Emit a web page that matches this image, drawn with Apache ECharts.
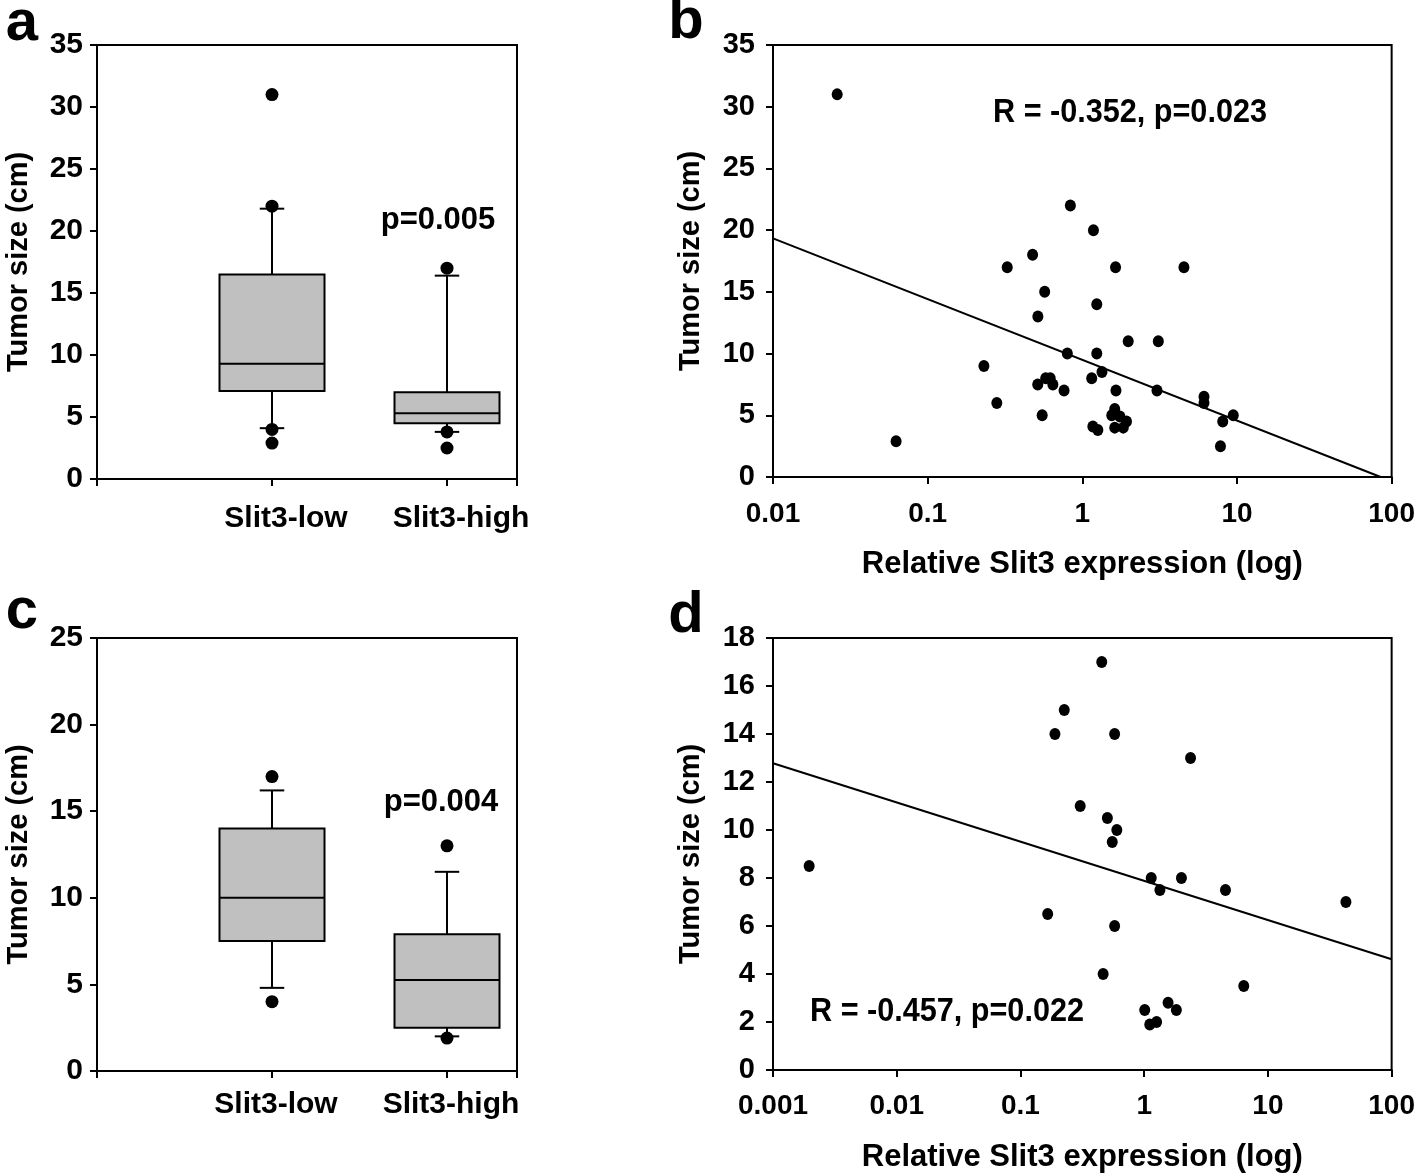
<!DOCTYPE html>
<html>
<head>
<meta charset="utf-8">
<script src="https://cdn.jsdelivr.net/npm/echarts@6/dist/echarts.min.js"></script>
<style>
  html, body { margin: 0; padding: 0; background: #fff; }
  #chart { width: 1418px; height: 1175px; }
</style>
</head>
<body>
<div id="chart"></div>
<script>
// groups of the box plots
const groups = ['Slit3-low', 'Slit3-high'];

// box plots: [x, lower whisker, Q1, median, Q3, upper whisker]
const boxA = [[1, 4.1, 7.1, 9.3, 16.5, 21.8], [2, 3.8, 4.5, 5.3, 7.0, 16.4]];
const dotsA = [[1, 31], [1, 22], [1, 4.0], [1, 2.9], [2, 17], [2, 3.8], [2, 2.5]];
const boxC = [[1, 4.8, 7.5, 10.0, 14.0, 16.2], [2, 2.0, 2.5, 5.25, 7.9, 11.5]];
const dotsC = [[1, 17], [1, 4.0], [2, 13], [2, 1.9]];

// scatter: [relative Slit3 expression, tumor size]
const pointsB = [
  [0.026, 31], [0.837, 22], [1.18, 20], [0.477, 18], [0.327, 17], [1.64, 17], [4.54, 17],
  [0.571, 15], [1.24, 14], [0.516, 13], [1.98, 11], [3.10, 11], [0.80, 10], [1.24, 10],
  [0.231, 9], [1.34, 8.5], [1.15, 8], [0.58, 8], [0.62, 8], [0.515, 7.5], [0.645, 7.5],
  [0.762, 7], [1.65, 7], [3.04, 7], [0.28, 6], [6.12, 6.5], [6.12, 6], [0.55, 5],
  [1.55, 5], [1.62, 5.5], [1.75, 4.9], [1.93, 4.5], [1.62, 4], [1.84, 4], [1.17, 4.1],
  [1.26, 3.8], [9.46, 5], [8.09, 4.5], [7.82, 2.5], [0.0625, 2.9]
];
const pointsD = [
  [0.454, 17], [0.226, 15], [0.19, 14], [0.577, 14], [2.37, 13], [0.304, 11], [0.504, 10.5],
  [0.601, 10], [0.552, 9.5], [0.00196, 8.5], [1.14, 8], [2.0, 8], [1.34, 7.5], [4.54, 7.5],
  [42.7, 7], [0.166, 6.5], [0.577, 6], [0.466, 4], [6.38, 3.5], [1.56, 2.8], [1.01, 2.5],
  [1.82, 2.5], [1.11, 1.9], [1.26, 2.0]
];

// regression lines: size = a + b * log10(expression)
const fitB = [9.49, -4.92];
const fitD = [7.88, -1.634];

const FONT = 'Liberation Sans';

function fitLine(fit, xmin, xmax) {
  const xs = [xmin, Math.min(xmax, Math.pow(10, -fit[0] / fit[1]))];
  return xs.map(x => [x, fit[0] + fit[1] * Math.log10(x)]);
}

function boxRender(params, api) {
  const x = api.value(0);
  const pt = i => api.coord([x, api.value(i)]);
  const lo = pt(1), q1 = pt(2), md = pt(3), q3 = pt(4), hi = pt(5);
  const half = api.size([0.6, 0])[0] / 2;
  const cap = api.size([0.14, 0])[0] / 2;
  const cx = lo[0];
  const line = (x1, y1, x2, y2) => ({
    type: 'line', shape: { x1, y1, x2, y2 }, style: { stroke: '#000', lineWidth: 2 }
  });
  return {
    type: 'group',
    children: [
      line(cx, q3[1], cx, hi[1]),
      line(cx, q1[1], cx, lo[1]),
      line(cx - cap, hi[1], cx + cap, hi[1]),
      line(cx - cap, lo[1], cx + cap, lo[1]),
      {
        type: 'rect',
        shape: { x: cx - half, y: q3[1], width: half * 2, height: q1[1] - q3[1] },
        style: { fill: '#c0c0c0', stroke: '#000', lineWidth: 2 }
      },
      line(cx - half, md[1], cx + half, md[1])
    ]
  };
}

const axisLine = { show: true, onZero: false, lineStyle: { color: '#000', width: 2 } };
const axisTick = { show: true, inside: false, length: 7, lineStyle: { color: '#000', width: 2 } };

function boxX(grid, pad, margin) {
  return {
    type: 'value', gridIndex: grid, min: 0, max: 2.4, interval: 1,
    axisLine, axisTick, splitLine: { show: false },
    axisLabel: {
      formatter: v => groups[v - 1] || '', margin: margin, padding: [0, 0, 0, pad],
      color: '#000', fontFamily: FONT, fontWeight: 'bold', fontSize: 30
    }
  };
}
function sizeY(grid, max, step, size, gap, margin) {
  return {
    type: 'value', gridIndex: grid, min: 0, max: max, interval: step,
    axisLine, axisTick, splitLine: { show: false },
    axisLabel: { margin: margin, color: '#000', fontFamily: FONT, fontWeight: 'bold', fontSize: size },
    name: 'Tumor size (cm)', nameLocation: 'middle', nameGap: gap, nameRotate: 90,
    nameTextStyle: { color: '#000', fontFamily: FONT, fontWeight: 'bold', fontSize: 29 }
  };
}
function logX(grid, min, margin, gap) {
  return {
    type: 'log', logBase: 10, gridIndex: grid, min: min, max: 100,
    axisLine, axisTick, splitLine: { show: false }, minorTick: { show: false },
    axisLabel: {
      formatter: v => String(+Number(v).toPrecision(2)), margin: margin,
      color: '#000', fontFamily: FONT, fontWeight: 'bold', fontSize: 28
    },
    name: 'Relative Slit3 expression (log)', nameLocation: 'middle', nameGap: gap,
    nameTextStyle: { color: '#000', fontFamily: FONT, fontWeight: 'bold', fontSize: 31 }
  };
}

const gridStyle = { show: true, borderColor: '#000', borderWidth: 2, backgroundColor: 'transparent' };

function label(text, x, y, size, sx) {
  return {
    type: 'text', x: x, y: y, scaleX: sx || 1,
    style: { text: text, fill: '#000', font: 'bold ' + size + 'px ' + FONT, textAlign: 'center', textVerticalAlign: 'middle' }
  };
}

const option = {
  animation: false,
  backgroundColor: '#fff',
  grid: [
    Object.assign({ left: 97, top: 45, width: 420, height: 434 }, gridStyle),
    Object.assign({ left: 773, top: 45, width: 619, height: 432 }, gridStyle),
    Object.assign({ left: 97, top: 638, width: 420, height: 433 }, gridStyle),
    Object.assign({ left: 773, top: 638, width: 619, height: 432 }, gridStyle)
  ],
  xAxis: [boxX(0, 28, 25), logX(1, 0.01, 23, 72), boxX(2, 8, 19), logX(3, 0.001, 22, 72)],
  yAxis: [
    sizeY(0, 35, 5, 30, 64, 14),
    sizeY(1, 35, 5, 29, 68, 18),
    sizeY(2, 25, 5, 30, 64, 14),
    sizeY(3, 18, 2, 29, 68, 18)
  ],
  series: [
    { type: 'custom', xAxisIndex: 0, yAxisIndex: 0, renderItem: boxRender, data: boxA, encode: { x: 0, y: [1, 2, 3, 4, 5] } },
    { type: 'scatter', xAxisIndex: 0, yAxisIndex: 0, data: dotsA, symbolSize: 13, itemStyle: { color: '#000', opacity: 1 } },
    { type: 'custom', xAxisIndex: 2, yAxisIndex: 2, renderItem: boxRender, data: boxC, encode: { x: 0, y: [1, 2, 3, 4, 5] } },
    { type: 'scatter', xAxisIndex: 2, yAxisIndex: 2, data: dotsC, symbolSize: 13, itemStyle: { color: '#000', opacity: 1 } },
    { type: 'scatter', xAxisIndex: 1, yAxisIndex: 1, data: pointsB, symbolSize: [11, 12], itemStyle: { color: '#000', opacity: 1 } },
    { type: 'line', xAxisIndex: 1, yAxisIndex: 1, data: fitLine(fitB, 0.01, 100), symbol: 'none', lineStyle: { color: '#000', width: 2 } },
    { type: 'scatter', xAxisIndex: 3, yAxisIndex: 3, data: pointsD, symbolSize: [11, 12], itemStyle: { color: '#000', opacity: 1 } },
    { type: 'line', xAxisIndex: 3, yAxisIndex: 3, data: fitLine(fitD, 0.001, 100), symbol: 'none', lineStyle: { color: '#000', width: 2 } }
  ],
  graphic: [
    label('a', 22, 24, 58),
    label('b', 686, 22, 58),
    label('c', 22, 612, 58),
    label('d', 686, 616, 58),
    label('p=0.005', 438, 220, 31),
    label('p=0.004', 441, 802, 31),
    label('R = -0.352, p=0.023', 1130, 113, 34, 0.9),
    label('R = -0.457, p=0.022', 947, 1012, 34, 0.9)
  ]
};

const chart = echarts.init(document.getElementById('chart'));
chart.setOption(option);
</script>
</body>
</html>
